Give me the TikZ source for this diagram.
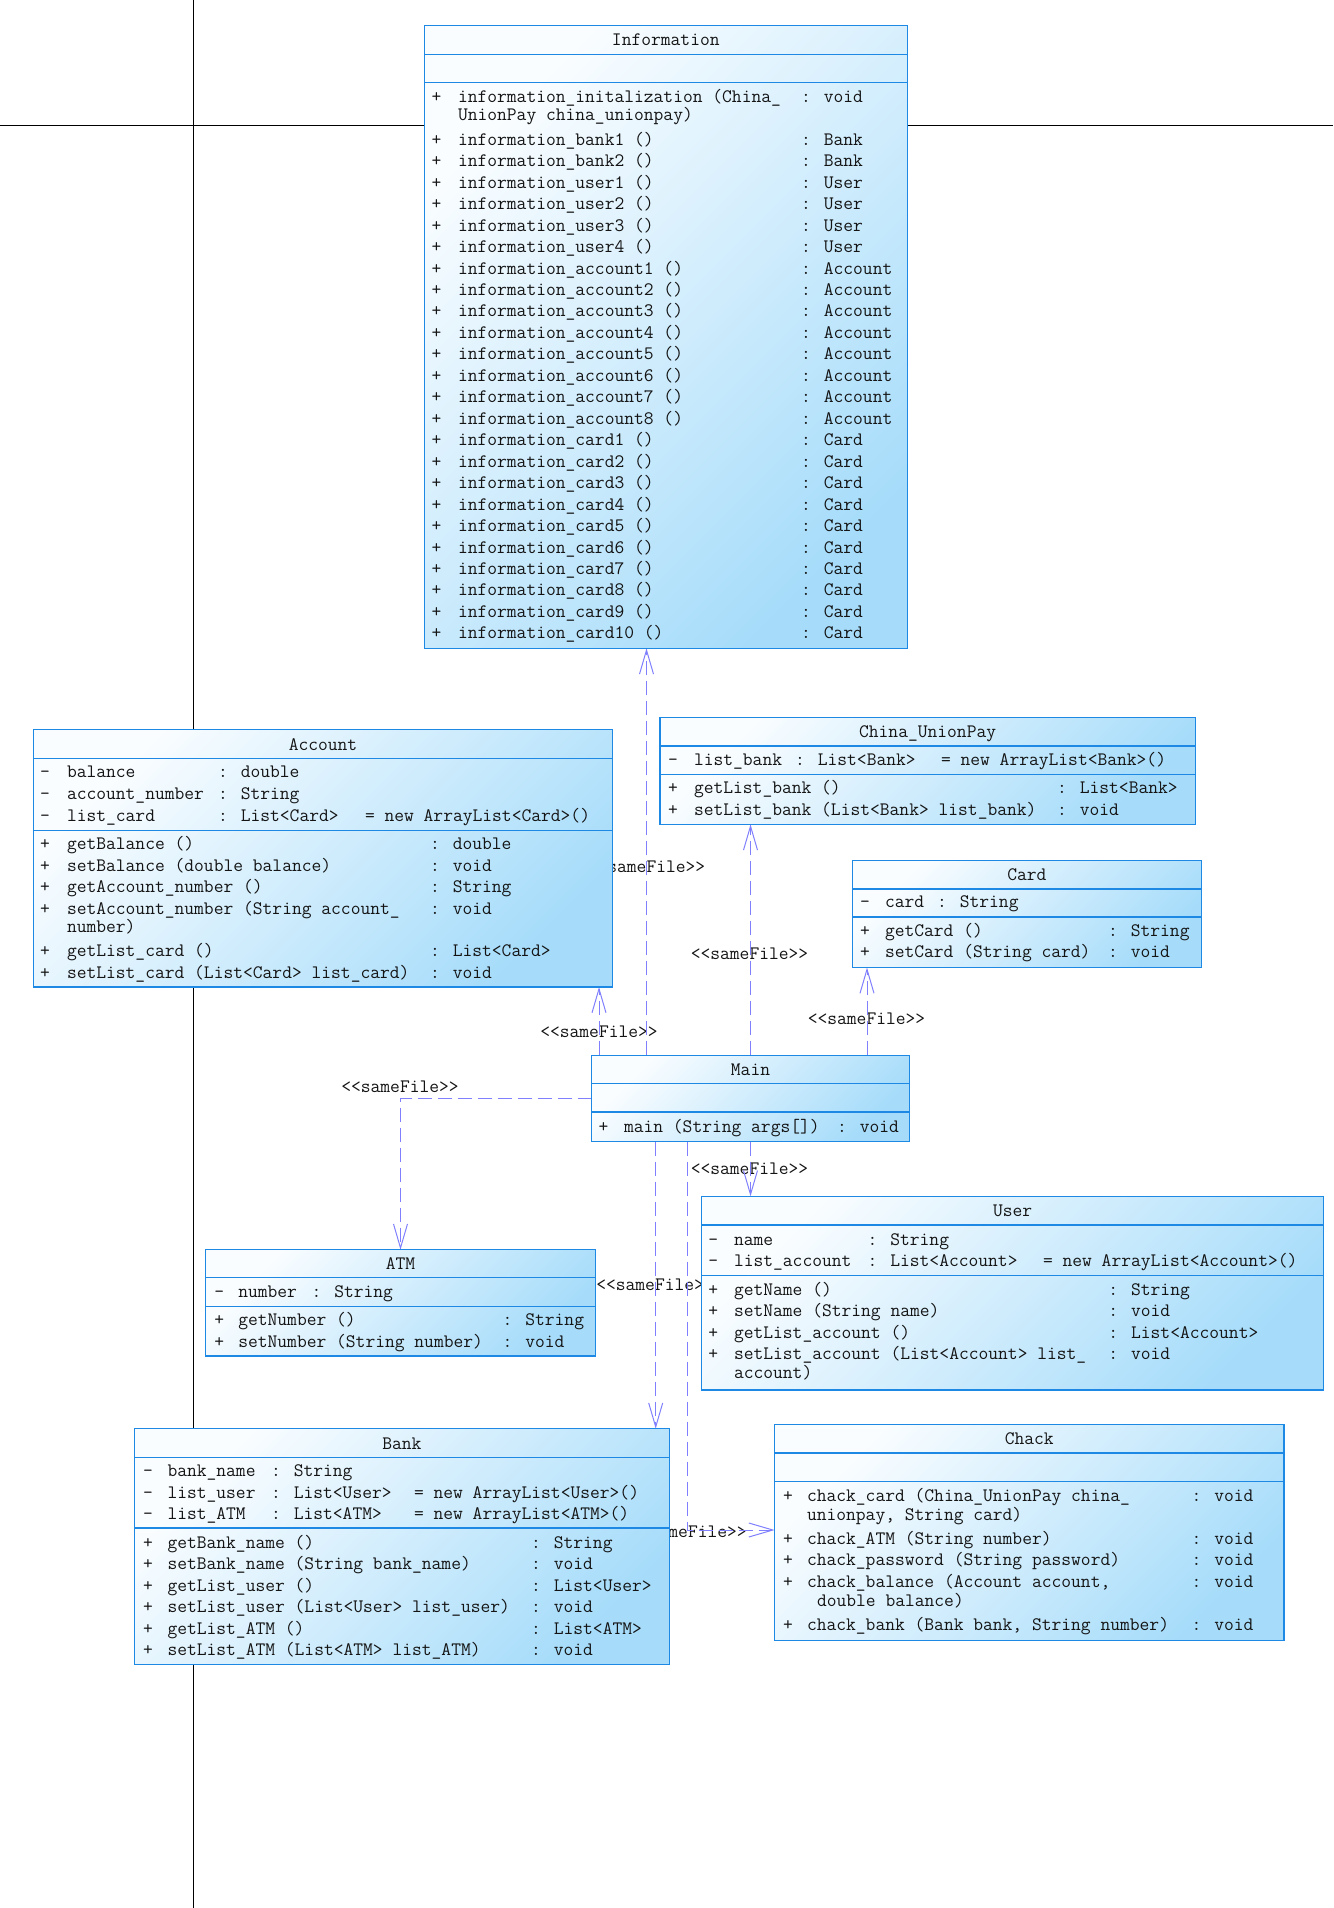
\documentclass[tikz,border=0pt]{standalone}
\usepackage{fontspec}
\usetikzlibrary{arrows.meta}
\definecolor{bdr}{RGB}{30,136,229}
\definecolor{fillA}{RGB}{250,253,255}
\definecolor{fillB}{RGB}{166,220,250}
\definecolor{conn}{RGB}{128,128,255}
\definecolor{txtc}{RGB}{20,20,20}
\newcommand\umlfont{\ttfamily\fontsize{19}{21}\selectfont}
\newcommand\TX[4]{\node[tx] (#1) at (#2,#3+6) {#4};}
\newcommand\ROW[8]{\TX{#1S}{#3}{#6}{#2}\TX{#1N}{#4}{#6}{#7}\TX{#1T}{#5}{#6}{#8}}
\newcommand\BOX[5]{\node[box, minimum width={#4-#2}, minimum height={#5-#3}] (#1) at ({(#2+#4)/2},{(#3+#5)/2}) {};}
\newcommand\SEP[3]{\draw[sepl] (#1.west |- 0,#2) -- (#1.east |- 0,#2); \draw[sepl] (#1.west |- 0,#3) -- (#1.east |- 0,#3);}
\begin{document}
\begin{tikzpicture}[x=1pt,y=-1pt,
  box/.style={draw=bdr, line width=1.5pt, top color=fillA, bottom color=fillB, shading angle=45, inner sep=0pt, outer sep=0pt},
  sepl/.style={draw=bdr, line width=1.5pt},
  tx/.style={anchor=base west, inner sep=0pt, outer sep=0pt, font=\umlfont, text=txtc},
  ttl/.style={anchor=base, inner sep=0pt, outer sep=0pt, font=\umlfont, text=txtc},
  lbl/.style={anchor=base, inner sep=0pt, outer sep=0pt, font=\umlfont, text=txtc},
  dep/.style={draw=conn, line width=1pt, dash pattern=on 14pt off 6pt, -{Straight Barb[length=24pt,width=14pt]}},
  blk/.style={draw=black, line width=1.3pt}]
\useasboundingbox (0,0) rectangle (1333,1908);
\fill[white] (0,0) rectangle (1333,1908);
% black grid lines
\coordinate (vt) at (193.5,0); \coordinate (vb) at (193.5,1908);
\coordinate (hl) at (0,125.3); \coordinate (hr) at (1333,125.3);
\draw[blk] (vt) -- (vb);
\draw[blk] (hl) -- (hr);
% boxes (nodes only for anchors first)
\BOX{inf}{424.3}{25.3}{907.3}{648.3}
\BOX{acc}{33.5}{729.7}{612.5}{987}
\BOX{cup}{659.8}{717.3}{1195.4}{824.3}
\BOX{crd}{852.5}{860.5}{1201.3}{967.5}
\BOX{main}{591.5}{1055.3}{909.4}{1141.5}
\BOX{usr}{701.7}{1196.3}{1323.5}{1390}
\BOX{atm}{205.7}{1249.7}{595.3}{1356}
\BOX{bank}{134.5}{1428.7}{669.3}{1664.3}
\BOX{chk}{774.6}{1424.3}{1284}{1640.5}
% connectors
\coordinate (ca) at (646.5,0);
\coordinate (cb) at (599,0);
\coordinate (cc) at (750.5,0);
\coordinate (cd) at (867,0);
\coordinate (ce) at (0,1098.5);
\coordinate (cg) at (655.7,0);
\coordinate (ch) at (687,0);
\coordinate (chy) at (0,1530);
\node[lbl] (lbA) at (646.5,866.7+6) {<<sameFile>>};
\node[lbl] (lbB) at (599,1031.5+6) {<<sameFile>>};
\node[lbl] (lbC) at (749.5,953.3+6) {<<sameFile>>};
\node[lbl] (lbD) at (866.5,1018.3+6) {<<sameFile>>};
\node[lbl] (lbE) at (400,1086+6) {<<sameFile>>};
\node[lbl] (lbF) at (749.5,1168.3+6) {<<sameFile>>};
\node[lbl] (lbG) at (655,1284.3+6) {<<sameFile>>};
\node[lbl] (lbH) at (688,1531.5+6) {<<sameFile>>};
\draw[dep] (main.north -| ca) -- (inf.south -| ca);
\draw[dep] (main.north -| cb) -- (acc.south -| cb);
\draw[dep] (main.north -| cc) -- (cup.south -| cc);
\draw[dep] (main.north -| cd) -- (crd.south -| cd);
\draw[dep] (main.west |- ce) -| (atm.north);
\draw[dep] (main.south -| cc) -- (usr.north -| cc);
\draw[dep] (main.south -| cg) -- (bank.north -| cg);
\draw[dep] (main.south -| ch) |- (chk.west |- chy);
% boxes drawn on top
\BOX{inf}{424.3}{25.3}{907.3}{648.3}
\BOX{acc}{33.5}{729.7}{612.5}{987}
\BOX{cup}{659.8}{717.3}{1195.4}{824.3}
\BOX{crd}{852.5}{860.5}{1201.3}{967.5}
\BOX{main}{591.5}{1055.3}{909.4}{1141.5}
\BOX{usr}{701.7}{1196.3}{1323.5}{1390}
\BOX{atm}{205.7}{1249.7}{595.3}{1356}
\BOX{bank}{134.5}{1428.7}{669.3}{1664.3}
\BOX{chk}{774.6}{1424.3}{1284}{1640.5}
\SEP{inf}{54.3}{82.3}
\SEP{acc}{758.3}{830.3}
\SEP{cup}{746}{774.5}
\SEP{crd}{889}{917}
\SEP{main}{1083.5}{1112}
\SEP{usr}{1225}{1275.7}
\SEP{atm}{1277.7}{1306.5}
\SEP{bank}{1457.3}{1528}
\SEP{chk}{1453}{1481.3}
% titles
\node[ttl] (tInf) at (665.8,39.5+6) {Information};
\node[ttl] (tAcc) at (323,744+6) {Account};
\node[ttl] (tCup) at (927.6,731.6+6) {China\_UnionPay};
\node[ttl] (tCrd) at (1026.9,874.8+6) {Card};
\node[ttl] (tMain) at (750.5,1069.4+6) {Main};
\node[ttl] (tUsr) at (1012.6,1210.6+6) {User};
\node[ttl] (tAtm) at (400.5,1263.7+6) {ATM};
\node[ttl] (tBank) at (401.9,1443+6) {Bank};
\node[ttl] (tChk) at (1029.3,1438.6+6) {Chack};
% Information
\ROW{infM0}{+}{431.7}{458}{801}{96.7}{information\_initalization (China\_}{: void}
\TX{infM0c}{458}{115}{UnionPay china\_unionpay)}
\foreach \nm/\ty [count=\i from 0] in {bank1/Bank,bank2/Bank,user1/User,user2/User,user3/User,user4/User,account1/Account,account2/Account,account3/Account,account4/Account,account5/Account,account6/Account,account7/Account,account8/Account,card1/Card,card2/Card,card3/Card,card4/Card,card5/Card,card6/Card,card7/Card,card8/Card,card9/Card,card10/Card}{
  \pgfmathsetmacro\yy{139.3+21.46*\i}
  \node[tx] (infS\i) at (431.7,\yy+6) {+};
  \node[tx] (infN\i) at (458,\yy+6) {information\_\nm{} ()};
  \node[tx] (infT\i) at (801,\yy+6) {: \ty};
}
% Account
\ROW{accA1}{-}{40}{67}{218}{771.7}{balance}{: double}
\ROW{accA2}{-}{40}{67}{218}{793.3}{account\_number}{: String}
\ROW{accA3}{-}{40}{67}{218}{815}{list\_card}{: List<Card>}
\TX{accA3I}{365}{815}{= new ArrayList<Card>()}
\ROW{accM1}{+}{40}{67}{430}{843.3}{getBalance ()}{: double}
\ROW{accM2}{+}{40}{67}{430}{865}{setBalance (double balance)}{: void}
\ROW{accM3}{+}{40}{67}{430}{886.5}{getAccount\_number ()}{: String}
\ROW{accM4}{+}{40}{67}{430}{908}{setAccount\_number (String account\_}{: void}
\TX{accM4c}{67}{926.5}{number)}
\ROW{accM5}{+}{40}{67}{430}{950.7}{getList\_card ()}{: List<Card>}
\ROW{accM6}{+}{40}{67}{430}{972.2}{setList\_card (List<Card> list\_card)}{: void}
% China_UnionPay
\ROW{cupA1}{-}{668}{694}{795}{759}{list\_bank}{: List<Bank>}
\TX{cupA1I}{941}{759}{= new ArrayList<Bank>()}
\ROW{cupM1}{+}{668}{694}{1057}{787.7}{getList\_bank ()}{: List<Bank>}
\ROW{cupM2}{+}{668}{694}{1057}{809}{setList\_bank (List<Bank> list\_bank)}{: void}
% Card
\ROW{crdA1}{-}{860}{885}{937}{901.7}{card}{: String}
\ROW{crdM1}{+}{860}{885}{1108}{930.7}{getCard ()}{: String}
\ROW{crdM2}{+}{860}{885}{1108}{951.7}{setCard (String card)}{: void}
% Main
\ROW{mainM1}{+}{598.6}{624}{837}{1126}{main (String args[])}{: void}
% User
\ROW{usrA1}{-}{708.3}{734}{867.5}{1239.3}{name}{: String}
\ROW{usrA2}{-}{708.3}{734}{867.5}{1260.5}{list\_account}{: List<Account>}
\TX{usrA2I}{1043}{1260.5}{= new ArrayList<Account>()}
\ROW{usrM1}{+}{708.3}{734}{1108.3}{1289.3}{getName ()}{: String}
\ROW{usrM2}{+}{708.3}{734}{1108.3}{1310.7}{setName (String name)}{: void}
\ROW{usrM3}{+}{708.3}{734}{1108.3}{1332.1}{getList\_account ()}{: List<Account>}
\ROW{usrM4}{+}{708.3}{734}{1108.3}{1353.5}{setList\_account (List<Account> list\_}{: void}
\TX{usrM4c}{734}{1372}{account)}
% ATM
\ROW{atmA1}{-}{214.3}{238.3}{311.5}{1291}{number}{: String}
\ROW{atmM1}{+}{214.3}{238.3}{502.5}{1319.3}{getNumber ()}{: String}
\ROW{atmM2}{+}{214.3}{238.3}{502.5}{1341}{setNumber (String number)}{: void}
% Bank
\ROW{bnkA1}{-}{143}{167.5}{271}{1470.5}{bank\_name}{: String}
\ROW{bnkA2}{-}{143}{167.5}{271}{1492}{list\_user}{: List<User>}
\TX{bnkA2I}{414}{1492}{= new ArrayList<User>()}
\ROW{bnkA3}{-}{143}{167.5}{271}{1513.5}{list\_ATM}{: List<ATM>}
\TX{bnkA3I}{414}{1513.5}{= new ArrayList<ATM>()}
\ROW{bnkM1}{+}{143}{167.5}{531}{1542.3}{getBank\_name ()}{: String}
\ROW{bnkM2}{+}{143}{167.5}{531}{1563.7}{setBank\_name (String bank\_name)}{: void}
\ROW{bnkM3}{+}{143}{167.5}{531}{1585.1}{getList\_user ()}{: List<User>}
\ROW{bnkM4}{+}{143}{167.5}{531}{1606.5}{setList\_user (List<User> list\_user)}{: void}
\ROW{bnkM5}{+}{143}{167.5}{531}{1628}{getList\_ATM ()}{: List<ATM>}
\ROW{bnkM6}{+}{143}{167.5}{531}{1649.4}{setList\_ATM (List<ATM> list\_ATM)}{: void}
% Chack
\ROW{chkM1}{+}{783}{807}{1191.5}{1495.7}{chack\_card (China\_UnionPay china\_}{: void}
\TX{chkM1c}{807}{1514.3}{unionpay, String card)}
\ROW{chkM2}{+}{783}{807}{1191.5}{1538.3}{chack\_ATM (String number)}{: void}
\ROW{chkM3}{+}{783}{807}{1191.5}{1559.7}{chack\_password (String password)}{: void}
\ROW{chkM4}{+}{783}{807}{1191.5}{1581.1}{chack\_balance (Account account,}{: void}
\TX{chkM4c}{817}{1600}{double balance)}
\ROW{chkM5}{+}{783}{807}{1191.5}{1624}{chack\_bank (Bank bank, String number)}{: void}
\end{tikzpicture}
\end{document}
